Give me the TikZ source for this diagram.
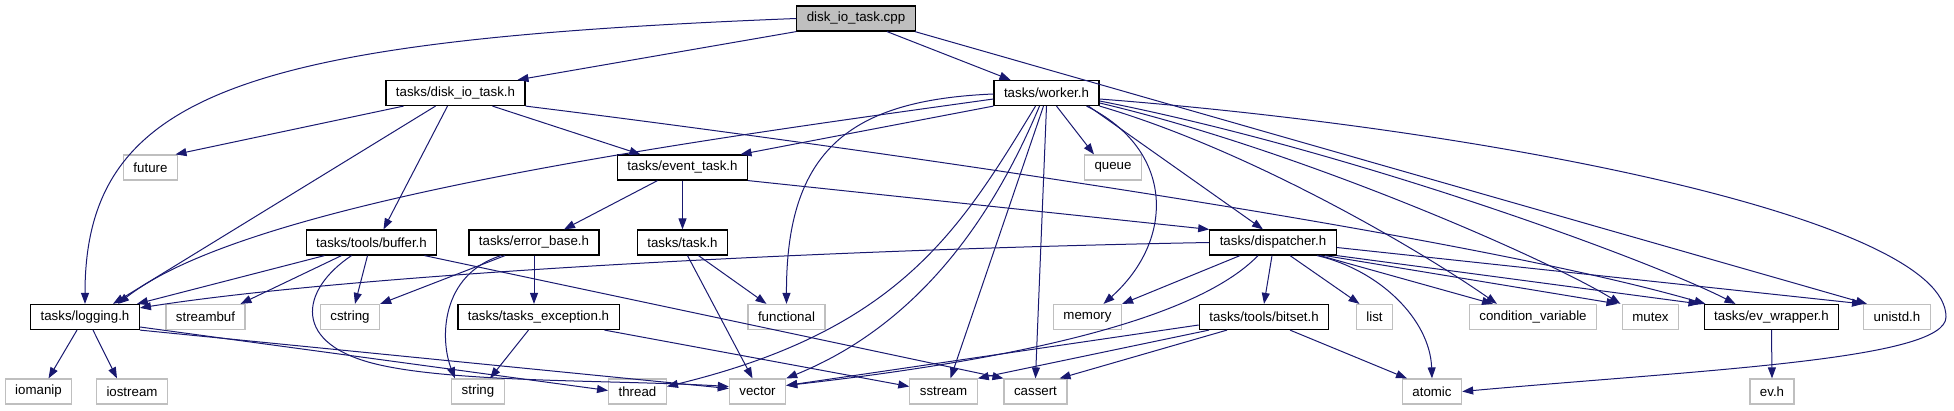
\documentclass[tikz,border=0pt]{standalone}
\usepackage{fontspec}
\setmainfont{Liberation Sans}
\usetikzlibrary{arrows.meta}
\definecolor{edgeBlue}{HTML}{191970}
\definecolor{boxGray}{HTML}{BFBFBF}

\begin{document}
\begin{tikzpicture}[
        x=1pt, y=-1pt,
        headerNode/.style={
            rectangle,
            draw=black,
            line width=1.2pt,
            minimum height=25pt,
            inner xsep=10pt,
            inner ysep=0pt,
            font=\fontsize{13.3}{15}\selectfont
        },
        sysNode/.style={
            headerNode,
            draw=boxGray
        },
        fileNode/.style={
            headerNode,
            fill=boxGray
        },
        incLine/.style={
            edgeBlue,
            line width=1pt,
            -{Triangle[length=11pt,width=8pt]}
        }
    ]
        \useasboundingbox (0,0) rectangle (1954,411);

        \node[fileNode] (cpp) at (856,18.5) {disk\_io\_task.cpp};

        \node[headerNode] (dio)    at (455.5,93)  {tasks/disk\_io\_task.h};
        \node[headerNode] (worker) at (1046.5,93) {tasks/worker.h};

        \node[sysNode]    (future) at (150.5,167.5) {future};
        \node[headerNode] (evtask) at (682.5,167.5) {tasks/event\_task.h};
        \node[sysNode]    (queue)  at (1113,167.5)  {queue};

        \node[headerNode] (buffer)     at (371.5,242.5) {tasks/tools/buffer.h};
        \node[headerNode] (errbase)    at (534,242.5)   {tasks/error\_base.h};
        \node[headerNode] (task)       at (682.5,242.5) {tasks/task.h};
        \node[headerNode] (dispatcher) at (1273,242.5)  {tasks/dispatcher.h};

        \node[headerNode] (logging)    at (85,317)     {tasks/logging.h};
        \node[sysNode]    (streambuf)  at (205.5,317)  {streambuf};
        \node[sysNode]    (cstring)    at (350,317)    {cstring};
        \node[headerNode] (texc)       at (538.5,317)  {tasks/tasks\_exception.h};
        \node[sysNode]    (functional) at (786.5,317)  {functional};
        \node[sysNode]    (memory)     at (1087.5,317) {memory};
        \node[headerNode] (bitset)     at (1264,317)   {tasks/tools/bitset.h};
        \node[sysNode]    (list)       at (1374.5,317) {list};
        \node[sysNode]    (condvar)    at (1533,317)   {condition\_variable};
        \node[sysNode]    (mutex)      at (1650.5,317) {mutex};
        \node[headerNode] (evwrap)     at (1771.5,317) {tasks/ev\_wrapper.h};
        \node[sysNode]    (unistd)     at (1897,317)   {unistd.h};

        \node[sysNode] (iomanip)  at (38.5,391.5)  {iomanip};
        \node[sysNode] (iostream) at (132,391.5)   {iostream};
        \node[sysNode] (string)   at (478,391.5)   {string};
        \node[sysNode] (thread)   at (637.5,391.5) {thread};
        \node[sysNode] (vector)   at (757.5,391.5) {vector};
        \node[sysNode] (sstream)  at (943.5,391.5) {sstream};
        \node[sysNode] (cassert)  at (1035.5,391.5) {cassert};
        \node[sysNode] (atomic)   at (1432,391.5)  {atomic};
        \node[sysNode] (evh)      at (1772,391.5)  {ev.h};

        \coordinate (atomicBend) at (1946,317);
        \coordinate (bufferBend) at (380,365);

        % disk_io_task.cpp
        \draw[incLine] (cpp.west) .. controls (250,40) and (85,90) .. (logging.north);
        \draw[incLine] (cpp.south west) -- ([xshift=62pt]dio.north);
        \draw[incLine] ([xshift=31pt]cpp.south) -- ([xshift=-36pt]worker.north);
        \draw[incLine] ([xshift=59pt]cpp.south) -- ([xshift=-30pt]unistd.north);

        % tasks/disk_io_task.h
        \draw[incLine] ([xshift=-52pt]dio.south) -- ([xshift=25pt]future.north);
        \draw[incLine] ([xshift=-20pt]dio.south) -- ([xshift=28pt]logging.north);
        \draw[incLine] ([xshift=-8pt]dio.south) -- ([xshift=12pt]buffer.north);
        \draw[incLine] ([xshift=37pt]dio.south) -- ([xshift=-42pt]evtask.north);
        \draw[incLine] (dio.south east) .. controls (800,140) and (1450,230) .. ([xshift=-66pt]evwrap.north);

        % tasks/worker.h
        \draw[incLine] ([yshift=-6pt]worker.west) .. controls (700,140) and (250,200) .. ([xshift=33pt]logging.north);
        \draw[incLine] (worker.south west) -- ([xshift=58pt]evtask.north);
        \draw[incLine] ([yshift=-1pt]worker.west) .. controls (850,100) and (786,150) .. (functional.north);
        \draw[incLine] ([xshift=-11pt]worker.south) .. controls (960,230) and (900,330) .. ([yshift=5pt]thread.east);
        \draw[incLine] ([xshift=-7pt]worker.south) .. controls (1000,200) and (930,320) .. (vector.north east);
        \draw[incLine] ([xshift=-3pt]worker.south) -- ([xshift=7pt]sstream.north);
        \draw[incLine] (worker.south) -- (cassert.north);
        \draw[incLine] ([xshift=10pt]worker.south) -- ([xshift=-19pt]queue.north);
        \draw[incLine] ([xshift=40pt]worker.south) .. controls (1175,150) and (1175,240) .. ([xshift=16pt]memory.north);
        \draw[incLine] ([xshift=42pt]worker.south) -- ([xshift=-10pt]dispatcher.north);
        \draw[incLine] (worker.south east) .. controls (1250,150) and (1420,250) .. ([xshift=-36pt]condvar.north);
        \draw[incLine] ([yshift=-10pt]worker.east) .. controls (1300,150) and (1550,260) .. ([xshift=-30pt]mutex.north);
        \draw[incLine] ([yshift=-8pt]worker.east) .. controls (1350,150) and (1650,260) .. ([xshift=-36pt]evwrap.north);
        \draw[incLine] ([yshift=-6pt]worker.east) .. controls (1500,130) and (1946,220) .. (atomicBend)
            .. controls (1946,360) and (1700,370) .. (atomic.east);

        % tasks/event_task.h
        \draw[incLine] ([xshift=-25pt]evtask.south) -- ([xshift=30pt]errbase.north);
        \draw[incLine] (evtask.south) -- (task.north);
        \draw[incLine] (evtask.south east) -- (dispatcher.north west);

        % tasks/dispatcher.h
        \draw[incLine] (dispatcher.west) .. controls (800,250) and (350,275) .. ([yshift=-4pt]logging.north east);
        \draw[incLine] ([xshift=-33pt]dispatcher.south) -- (memory.north east);
        \draw[incLine] ([xshift=-15pt]dispatcher.south) .. controls (1215,300) and (1100,350) .. ([yshift=6pt]vector.east);
        \draw[incLine] ([xshift=-1pt]dispatcher.south) -- (bitset.north);
        \draw[incLine] ([xshift=17pt]dispatcher.south) -- ([xshift=-15pt]list.north);
        \draw[incLine] ([xshift=44pt]dispatcher.south) .. controls (1380,270) and (1430,320) .. (atomic.north);
        \draw[incLine] ([xshift=47pt]dispatcher.south) -- ([xshift=-40pt]condvar.north);
        \draw[incLine] ([xshift=52pt]dispatcher.south) -- ([xshift=-33pt]mutex.north);
        \draw[incLine] (dispatcher.south east) -- ([xshift=-72pt]evwrap.north);
        \draw[incLine] ([yshift=-5pt]dispatcher.east) -- ([xshift=-34pt]unistd.north);

        % tasks/tools/buffer.h
        \draw[incLine] ([xshift=-47pt]buffer.south) -- ([xshift=-3pt]logging.north east);
        \draw[incLine] ([xshift=-30pt]buffer.south) -- ([xshift=35pt]streambuf.north);
        \draw[incLine] ([xshift=-20pt]buffer.south) .. controls (300,290) and (290,345) .. (bufferBend)
            .. controls (460,383) and (620,380) .. ([yshift=5pt]vector.west);
        \draw[incLine] ([xshift=-4pt]buffer.south) -- ([xshift=5pt]cstring.north);
        \draw[incLine] ([xshift=53pt]buffer.south) -- (cassert.north west);

        % tasks/error_base.h
        \draw[incLine] ([xshift=-29pt]errbase.south) -- (cstring.north east);
        \draw[incLine] ([xshift=-33pt]errbase.south) .. controls (440,275) and (440,340) .. ([xshift=-23pt]string.north);
        \draw[incLine] (errbase.south) -- (errbase.south |- texc.north);

        % tasks/tasks_exception.h
        \draw[incLine] ([xshift=-10pt]texc.south) -- ([xshift=12pt]string.north);
        \draw[incLine] ([xshift=66pt]texc.south) -- ([yshift=5pt]sstream.west);

        % tasks/task.h
        \draw[incLine] ([xshift=5pt]task.south) -- ([xshift=-5pt]vector.north);
        \draw[incLine] ([xshift=16pt]task.south) -- ([xshift=-20pt]functional.north);

        % tasks/logging.h
        \draw[incLine] ([xshift=-8pt]logging.south) -- ([xshift=10pt]iomanip.north);
        \draw[incLine] ([xshift=8pt]logging.south) -- ([xshift=-15pt]iostream.north);
        \draw[incLine] ([yshift=-10pt]logging.east) -- ([yshift=1pt]thread.west);
        \draw[incLine] (logging.south east) -- ([yshift=3pt]vector.west);

        % tasks/tools/bitset.h
        \draw[incLine] ([yshift=-8pt]bitset.west) -- ([yshift=6pt]vector.east);
        \draw[incLine] ([xshift=-55pt]bitset.south) -- (sstream.north east);
        \draw[incLine] ([xshift=-37pt]bitset.south) -- ([xshift=-8pt]cassert.north east);
        \draw[incLine] ([xshift=26pt]bitset.south) -- ([xshift=-25pt]atomic.north);

        % tasks/ev_wrapper.h
        \draw[incLine] (evwrap.south) -- (evh.north);

    \end{tikzpicture}
\end{document}
